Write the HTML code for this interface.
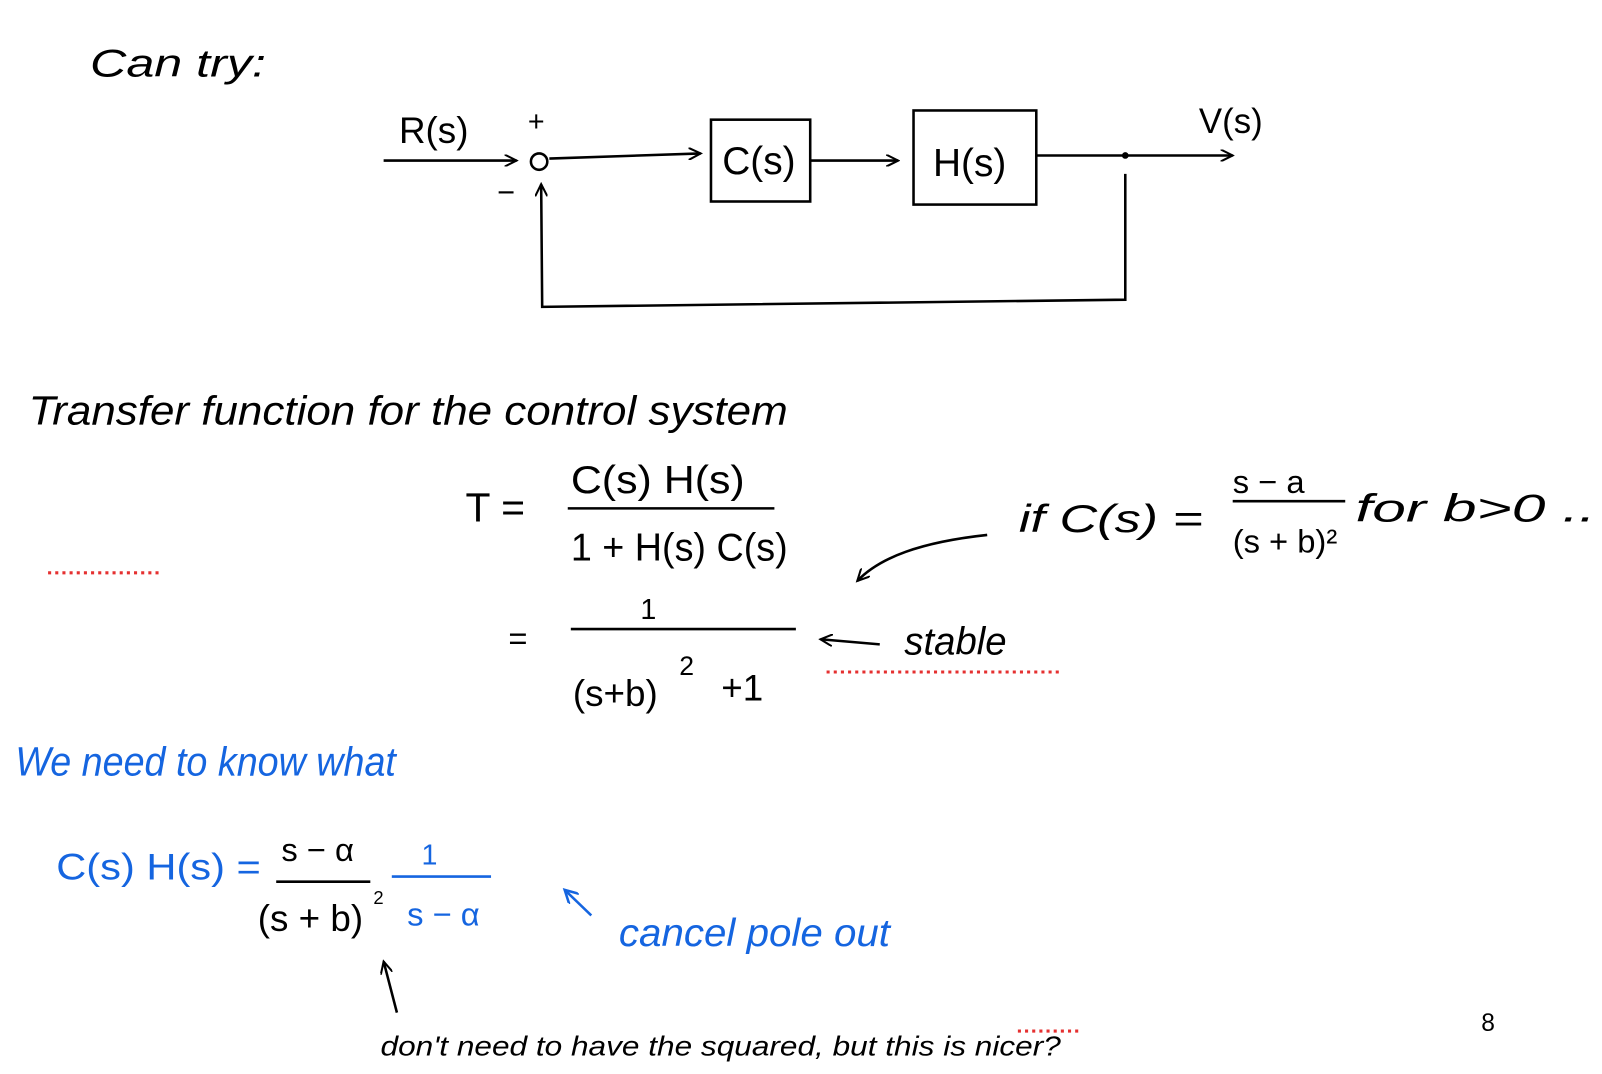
<!DOCTYPE html>
<html><head><meta charset="utf-8"><style>
html,body{margin:0;padding:0;background:#fff;}
svg{display:block;}
text{font-family:"Liberation Sans",sans-serif;}
</style></head><body>
<svg width="1602" height="1074" viewBox="0 0 1566 1050" preserveAspectRatio="none" xmlns="http://www.w3.org/2000/svg">
<defs>
<marker id="a" markerWidth="14" markerHeight="12" refX="12" refY="6" orient="auto" markerUnits="userSpaceOnUse">
<path d="M0,0 L12,6 L0,12" fill="none" stroke="#000" stroke-width="2"/></marker>
<marker id="ab" markerWidth="16" markerHeight="14" refX="13" refY="7" orient="auto" markerUnits="userSpaceOnUse">
<path d="M0,0 L13,7 L0,14" fill="none" stroke="#1565e0" stroke-width="2.5"/></marker>
</defs>
<g fill="#000" stroke="none">
<text x="88" y="75" font-size="38" font-style="italic" textLength="172" lengthAdjust="spacingAndGlyphs">Can try:</text>
<text x="390" y="140" font-size="36">R(s)</text>
<text x="516" y="128" font-size="28">+</text>
<text x="486" y="198" font-size="30">−</text>
<text x="706" y="170" font-size="38">C(s)</text>
<text x="912" y="172" font-size="38">H(s)</text>
<text x="1172" y="130" font-size="34">V(s)</text>
<text x="28" y="415" font-size="40" font-style="italic" textLength="742" lengthAdjust="spacingAndGlyphs">Transfer function for the control system</text>
<text x="455" y="510" font-size="40">T =</text>
<text x="558" y="482" font-size="38" textLength="170" lengthAdjust="spacingAndGlyphs">C(s) H(s)</text>
<text x="558" y="548" font-size="38" textLength="212" lengthAdjust="spacingAndGlyphs">1 + H(s) C(s)</text>
<text x="996" y="520" font-size="38" font-style="italic" textLength="180" lengthAdjust="spacingAndGlyphs">if C(s) =</text>
<text x="1205" y="482" font-size="32">s − a</text>
<text x="1205" y="540" font-size="32">(s + b)²</text>
<text x="1325" y="510" font-size="38" font-style="italic" textLength="235" lengthAdjust="spacingAndGlyphs">for b&gt;0 ..</text>
<text x="497" y="635" font-size="32">=</text>
<text x="626" y="605" font-size="28">1</text>
<text x="560" y="690" font-size="36">(s+b)</text>
<text x="664" y="660" font-size="26">2</text>
<text x="705" y="685" font-size="36">+1</text>
<text x="884" y="640" font-size="38" font-style="italic" textLength="100" lengthAdjust="spacingAndGlyphs">stable</text>
<text x="275" y="842" font-size="32">s − α</text>
<text x="252" y="910" font-size="36">(s + b)</text>
<text x="365" y="884" font-size="18">2</text>
<text x="372" y="1032" font-size="27" font-style="italic" textLength="665" lengthAdjust="spacingAndGlyphs">don't need to have the squared, but this is nicer?</text>
<text x="1448" y="1008" font-size="24" font-family="Liberation Serif">8</text>
</g>
<g fill="#1565e0">
<text x="15" y="758" font-size="40" font-style="italic" textLength="372" lengthAdjust="spacingAndGlyphs">We need to know what</text>
<text x="55" y="860" font-size="36" textLength="200" lengthAdjust="spacingAndGlyphs">C(s) H(s)  =</text>
<text x="412" y="845" font-size="28">1</text>
<text x="398" y="905" font-size="32">s − α</text>
<text x="605" y="925" font-size="38" font-style="italic" textLength="265" lengthAdjust="spacingAndGlyphs">cancel pole out</text>
</g>
<g fill="none" stroke="#000" stroke-width="2.5">
<path d="M375,157 L505,157" marker-end="url(#a)"/>
<circle cx="527" cy="158" r="8"/>
<path d="M537,155 L685,150" marker-end="url(#a)"/>
<rect x="695" y="117" width="97" height="80"/>
<path d="M792,157 L878,157" marker-end="url(#a)"/>
<rect x="893" y="108" width="120" height="92"/>
<path d="M1013,152 L1205,152" marker-end="url(#a)"/>
<circle cx="1100" cy="152" r="2" fill="#000"/>
<path d="M1100,170 L1100,293 L530,300 L529,180" marker-end="url(#a)"/>
<path d="M555,497 L757,497"/>
<path d="M1205,490 L1315,490"/>
<path d="M965,523 C900,530 860,545 838,568" marker-end="url(#a)"/>
<path d="M558,615 L778,615"/>
<path d="M860,630 L802,625" marker-end="url(#a)"/>
<path d="M270,862 L362,862"/>
<path d="M388,990 L375,940" marker-end="url(#a)"/>
</g>
<g fill="none" stroke="#1565e0" stroke-width="2.5">
<path d="M383,857 L480,857"/>
<path d="M578,895 L552,870" marker-end="url(#ab)"/>
</g>
<g stroke="#e53030" stroke-width="3" stroke-dasharray="3,4" fill="none">
<path d="M47,560 L155,560"/>
<path d="M808,657 L1035,657"/>
<path d="M995,1008 L1058,1008"/>
</g>
</svg>
</body></html>
